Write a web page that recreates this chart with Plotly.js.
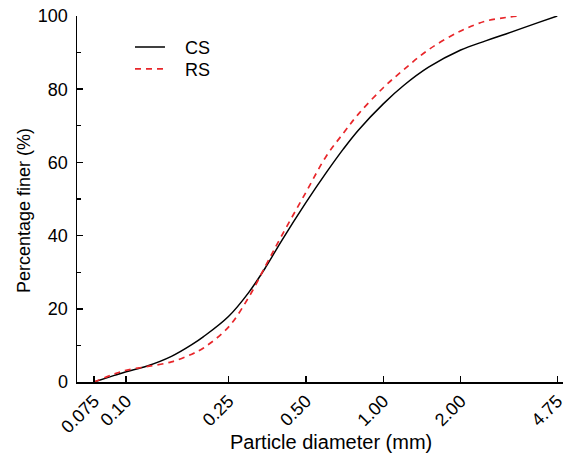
<!DOCTYPE html>
<html>
<head>
<meta charset="utf-8">
<script src="https://cdn.plot.ly/plotly-3.0.1.min.js"></script>
<style>html,body{margin:0;padding:0;background:#fff;}#chart{width:572px;height:455px;}</style>
</head>
<body>
<div id="chart"></div>
<script>
const csDiameter = [0.075, 0.09, 0.10, 0.12, 0.15, 0.18, 0.20, 0.25, 0.30, 0.35, 0.40, 0.50, 0.60, 0.70, 0.80, 1.00, 1.20, 1.50, 2.00, 2.50, 3.00, 4.00, 4.75];
const csFiner    = [0,     1.8,  2.8,  4.3,  7.0,  10.2, 12.4, 17.9, 24.5, 31.5, 38.3, 49.0, 57.2, 63.7, 68.8, 76.0, 81.0, 86.0, 90.7, 93.2, 95.1, 98.2, 100];
const rsDiameter = [0.075, 0.09, 0.10, 0.12, 0.15, 0.18, 0.20, 0.25, 0.30, 0.35, 0.40, 0.50, 0.60, 0.70, 0.80, 1.00, 1.20, 1.50, 2.00, 2.50, 3.00, 3.35];
const rsFiner    = [0,     2.2,  3.2,  4.2,  5.5,  7.6,  9.3,  15.0, 23.2, 32.0, 39.6, 51.8, 61.7, 68.0, 73.2, 80.4, 85.3, 90.8, 95.9, 98.6, 99.6, 100];
const seriesNames = ['CS', 'RS'];
const xTickVals  = [0.075, 0.10, 0.25, 0.50, 1.00, 2.00, 4.75];
const xTickText  = ['0.075', '0.10', '0.25', '0.50', '1.00', '2.00', '4.75'];
const yTickVals  = [0, 20, 40, 60, 80, 100];
const xTitle = 'Particle diameter (mm)';
const yTitle = 'Percentage finer (%)';

const font = {family: 'Liberation Sans, Arial, sans-serif', color: '#000'};
const pad = '\u00a0\u00a0\u00a0';
const traces = [
  {x: csDiameter, y: csFiner, name: pad + seriesNames[0], legend: 'legend', mode: 'lines', line: {color: '#000', width: 1.5, shape: 'spline', smoothing: 1}},
  {x: rsDiameter, y: rsFiner, name: pad + seriesNames[1], legend: 'legend2', mode: 'lines', line: {color: '#e8262a', width: 1.7, dash: '6px,5px', shape: 'spline', smoothing: 1}}
];
const legendBase = {x: 0.109, xanchor: 'left', yanchor: 'top', bgcolor: 'rgba(0,0,0,0)', font: Object.assign({size: 18}, font), itemwidth: 30};
const layout = {
  width: 572, height: 455,
  margin: {l: 77, r: 9, t: 16, b: 73},
  paper_bgcolor: '#fff', plot_bgcolor: '#fff',
  font: Object.assign({size: 18}, font),
  showlegend: true,
  legend: Object.assign({y: 0.965}, legendBase),
  legend2: Object.assign({y: 0.905}, legendBase),
  xaxis: {
    type: 'log', range: [Math.log10(0.0644), Math.log10(5.0)],
    tickvals: xTickVals, ticktext: xTickText, tickangle: -45,
    ticks: 'inside', ticklen: 6, tickwidth: 1.5, tickcolor: '#000',
    showline: true, linecolor: '#000', linewidth: 1.5, showgrid: false, zeroline: false,
    tickfont: Object.assign({size: 18}, font)
  },
  yaxis: {
    range: [0, 100], tickvals: yTickVals,
    ticks: 'inside', ticklen: 6, tickwidth: 1.5, tickcolor: '#000',
    minor: {dtick: 10, ticks: 'inside', ticklen: 4, tickwidth: 1.2, tickcolor: '#000', showgrid: false},
    showline: true, linecolor: '#000', linewidth: 1.5, showgrid: false, zeroline: false,
    ticklabelstandoff: 4,
    tickfont: Object.assign({size: 18}, font)
  },
  annotations: [
    {text: xTitle, xref: 'paper', yref: 'paper', x: 0.5226, y: -0.164, xanchor: 'center', yanchor: 'middle', showarrow: false, font: Object.assign({size: 20}, font)},
    {text: yTitle, xref: 'paper', yref: 'paper', x: -0.109, y: 0.467, xanchor: 'center', yanchor: 'middle', textangle: -90, showarrow: false, font: Object.assign({size: 18}, font)}
  ]
};
Plotly.newPlot('chart', traces, layout, {displayModeBar: false, staticPlot: true});
</script>
</body>
</html>
